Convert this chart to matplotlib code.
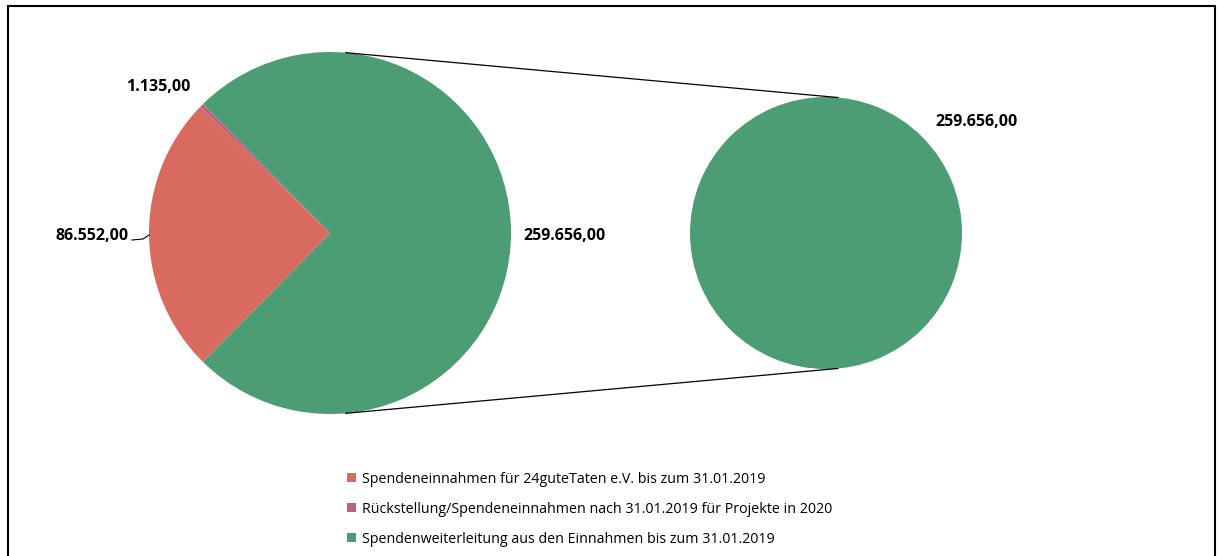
import numpy as np
import matplotlib.pyplot as plt
from matplotlib.patches import Rectangle, Patch

# -----------------------------
# Data
# -----------------------------
labels = ["Spendeneinnahmen für 24guteTaten e.V. bis zum 31.01.2019",
          "Rückstellung/Spendeneinnahmen nach 31.01.2019 für Projekte in 2020",
          "Spendenweiterleitung aus den Einnahmen bis zum 31.01.2019"]
values = [86552.00, 1135.00, 259656.00]
value_text = ["86.552,00", "1.135,00", "259.656,00"]
colors = ["#D96A5F", "#C0607F", "#4C9D74"]

plt.rcParams['font.family'] = ['Open Sans', 'DejaVu Sans']

W, H = 1218, 556
fig = plt.figure(figsize=(W / 100, H / 100), dpi=100)
ax = fig.add_axes([0, 0, 1, 1])

# geometry (pixel units, y up)
c1, r1 = (330, H - 233), 181
c2, r2 = (826, H - 233), 136

# main pie: green slice centred on the right
total = sum(values)
left_span = (values[0] + values[1]) / total * 360
start = 180 + left_span / 2
wedges, _ = ax.pie(values, colors=colors, startangle=start, counterclock=False,
                   center=c1, radius=r1, frame=True,
                   wedgeprops=dict(linewidth=0))

# second pie (only the green part)
ax.pie([values[2]], colors=[colors[2]], center=c2, radius=r2, frame=True,
       wedgeprops=dict(linewidth=0))

# connector lines
a = np.deg2rad(85)
for s in (1, -1):
    ax.plot([c1[0] + r1 * np.cos(a), c2[0] + r2 * np.cos(a)],
            [c1[1] + s * r1 * np.sin(a), c2[1] + s * r2 * np.sin(a)],
            color="black", lw=0.9)

# value labels
fs = 11.5
ax.text(158, H - 87, value_text[1], ha="center", va="center", fontsize=fs, fontweight="bold")
ax.text(129, H - 236, value_text[0], ha="right", va="center", fontsize=fs, fontweight="bold")
ax.plot([132, 143, 149], [H - 240, H - 239, H - 235], color="black", lw=0.8)
ax.text(523, H - 236, value_text[2], ha="left", va="center", fontsize=fs, fontweight="bold")
ax.text(977, H - 122, value_text[2], ha="center", va="center", fontsize=fs, fontweight="bold")

ax.set_xlim(0, W)
ax.set_ylim(0, H)
ax.set_aspect("equal")
ax.axis("off")

# legend
handles = [Patch(facecolor=c, edgecolor="none") for c in colors]
ax.legend(handles, labels, loc="upper center", bbox_to_anchor=(0.484, 0.175),
          frameon=False, fontsize=10.3, handlelength=0.65, handleheight=0.65,
          handletextpad=0.4, labelspacing=1.05)

# outer frame
fig.patches.append(Rectangle((8 / W, -0.02), 1207 / W, 1 - 6 / H + 0.02,
                             transform=fig.transFigure, fill=False,
                             edgecolor="black", lw=1.5))

plt.savefig("out.png", dpi=100)
